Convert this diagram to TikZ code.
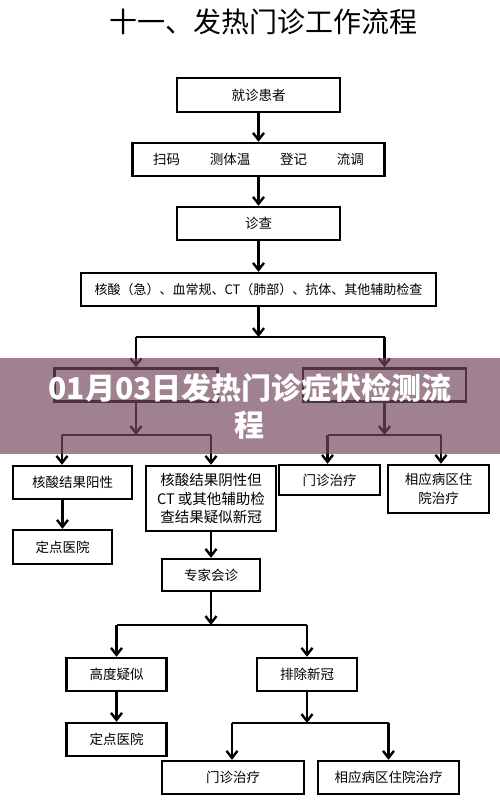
\documentclass[tikz,border=0pt]{standalone}
\usepackage{fontspec}
\setmainfont{Noto Sans CJK SC}
\usetikzlibrary{arrows.meta}
\definecolor{BandMauve}{HTML}{74485E}
\tikzset{
  flow/.style={-{Straight Barb[length=7pt,width=11pt]}, line width=2.4pt},
  trunk/.style={line width=2.4pt},
  card/.style={draw, line width=2.4pt, inner sep=0pt, align=center,
               font=\fontsize{13.5}{18.5}\selectfont},
  band/.style={fill=BandMauve, fill opacity=0.69, draw=none},
}

\begin{document}
\begin{tikzpicture}[x=1pt,y=-1pt]
  \useasboundingbox (0,0) rectangle (500,812);
  \node[font=\fontsize{28}{30}\selectfont] (title) at (263.5,22) {十一、发热门诊工作流程};
  % main column
  \node[card,minimum width=163pt,minimum height=34pt] (visit) at (258.5,95) {就诊患者};
  \node[card,minimum width=252pt,minimum height=33pt] (intake) at (258.5,159.5) {扫码\hspace{2.2em}测体温\hspace{2.2em}登记\hspace{2.2em}流调};
  \node[card,minimum width=163pt,minimum height=33pt] (exam) at (258.5,223.5) {诊查};
  \node[card,minimum width=355pt,minimum height=33pt,font=\fontsize{13}{16}\selectfont] (tests) at (258.5,289.5) {核酸（急）、血常规、CT（肺部）、抗体、其他辅助检查};
  \node[card,minimum width=163pt,minimum height=33pt] (hidL) at (136,385) {};
  \node[card,minimum width=163pt,minimum height=33pt] (hidR) at (384.5,385) {};
  % third row
  \node[card,minimum width=119pt,minimum height=33pt] (pos) at (72.5,482.5) {核酸结果阳性};
  \node[card,minimum width=130pt,minimum height=65pt,font=\fontsize{14.5}{18.5}\selectfont] (neg) at (211,498.5) {核酸结果阴性但\\CT 或其他辅助检\\查结果疑似新冠};
  \node[card,minimum width=101pt,minimum height=30pt] (opd1) at (329.5,480) {门诊治疗};
  \node[card,minimum width=101pt,minimum height=48pt] (ward1) at (438.5,489) {相应病区住\\院治疗};
  \node[card,minimum width=99pt,minimum height=34pt] (fix1) at (62.5,547) {定点医院};
  \node[card,minimum width=98pt,minimum height=32pt] (consult) at (211,575) {专家会诊};
  % lower branch
  \node[card,minimum width=100pt,minimum height=33pt] (high) at (116.5,674.5) {高度疑似};
  \node[card,minimum width=100pt,minimum height=33pt] (rule) at (307,674.5) {排除新冠};
  \node[card,minimum width=100pt,minimum height=33pt] (fix2) at (116.5,739.5) {定点医院};
  \node[card,minimum width=142pt,minimum height=33pt] (opd2) at (233,777.5) {门诊治疗};
  \node[card,minimum width=141pt,minimum height=33pt] (ward2) at (388.5,777.5) {相应病区住院治疗};
  % forks
  \coordinate (fork1) at (258.5,337);
  \coordinate (fork2) at (136,435);
  \coordinate (fork3) at (384.5,435);
  \coordinate (fork4) at (211,625);
  \coordinate (fork5) at (307,723);
  \coordinate (legA) at (62,435);
  \coordinate (legB) at (211,435);
  \coordinate (legC) at (327.5,435);
  \coordinate (legD) at (441,435);
  \coordinate (legE) at (232,723);
  % connectors
  \draw[flow] (visit) -- (intake);
  \draw[flow] (intake) -- (exam);
  \draw[flow] (exam) -- (tests);
  \draw[flow] (tests) -- (fork1);
  \draw[trunk] (hidL.north |- fork1) -- (hidR.north |- fork1);
  \draw[flow] (hidL.north |- fork1) -- (hidL.north);
  \draw[flow] (hidR.north |- fork1) -- (hidR.north);
  \draw[flow] (hidL) -- (fork2);
  \draw[flow] (hidR) -- (fork3);
  \draw[trunk] (legA) -- (legB);
  \draw[trunk] (legC) -- (legD);
  \draw[flow] (legA) -- (legA |- pos.north);
  \draw[flow] (legB) -- (neg.north);
  \draw[flow] (legC) -- (legC |- opd1.north);
  \draw[flow] (legD) -- (legD |- ward1.north);
  \draw[flow] (fix1.north |- pos.south) -- (fix1.north);
  \draw[flow] (neg) -- (consult);
  \draw[flow] (consult) -- (fork4);
  \draw[trunk] (high.north |- fork4) -- (rule.north |- fork4);
  \draw[flow] (high.north |- fork4) -- (high.north);
  \draw[flow] (rule.north |- fork4) -- (rule.north);
  \draw[flow] (high) -- (fix2);
  \draw[flow] (rule) -- (fork5);
  \draw[trunk] (legE) -- (ward2.north |- fork5);
  \draw[flow] (legE) -- (legE |- opd2.north);
  \draw[flow] (ward2.north |- fork5) -- (ward2.north);
  % caption band
  \fill[band] (0,358) rectangle (500,454);
  \node[text=white, align=center, font=\bfseries\fontsize{30}{37}\selectfont] (caption) at (250,406.5) {01月03日发热门诊症状检测流\\程};
\end{tikzpicture}
\end{document}
